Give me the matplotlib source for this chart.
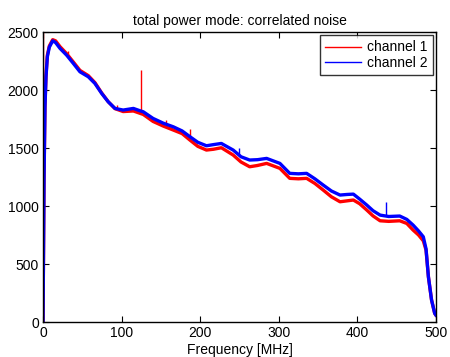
import matplotlib
matplotlib.use("Agg")
import matplotlib.pyplot as plt

plt.rcParams["font.family"] = ["Liberation Sans", "DejaVu Sans"]

# spectrum, MHz
freq = [0, 1.3, 2.5, 3.8, 5.5, 8, 12.3, 16, 21.6, 30, 38.6, 47, 57.6, 66,
        74.7, 83, 91.6, 102, 115, 123.4, 127.6, 140, 153, 166, 177, 187, 197,
        208, 217, 227, 242, 252, 263, 273, 284.6, 301.5, 314, 325, 335.5, 346,
        356.6, 367, 378, 387, 395, 403, 412, 420, 429, 440, 454, 463, 471, 478,
        484, 487.5, 490.5, 494.5, 498.5, 500]
ch1 = [0, 1250, 1870, 2125, 2300, 2380, 2435, 2425, 2375, 2315, 2242, 2170,
       2125, 2065, 1975, 1900, 1840, 1815, 1820, 1800, 1790, 1730, 1690, 1655,
       1625, 1569, 1515, 1483, 1490, 1503, 1440, 1380, 1339, 1350, 1368, 1325,
       1239, 1235, 1239, 1195, 1138, 1080, 1037, 1045, 1052, 1020, 966, 915,
       873, 868, 873, 850, 793, 750, 700, 620, 390, 190, 75, 60]
ch2 = [0, 1230, 1856, 2115, 2287, 2370, 2425, 2410, 2360, 2302, 2230, 2158,
       2115, 2058, 1971, 1899, 1842, 1828, 1842, 1822, 1813, 1756, 1715, 1683,
       1648, 1598, 1550, 1520, 1530, 1540, 1483, 1425, 1397, 1400, 1411, 1368,
       1282, 1278, 1282, 1235, 1181, 1130, 1095, 1100, 1103, 1060, 1009, 960,
       922, 910, 914, 885, 836, 785, 735, 630, 390, 190, 75, 60]

# narrow spikes: frequency, base, top
ch1_spike_f = [0.3, 31.4, 93.7, 125, 156.5, 187]
ch1_spike_lo = [0, 2310, 1835, 1795, 1680, 1575]
ch1_spike_hi = [2700, 2335, 1872, 2175, 1745, 1664]
ch2_spike_f = [250, 437]
ch2_spike_lo = [1440, 910]
ch2_spike_hi = [1497, 1037]

fig = plt.figure(figsize=(4.5, 3.57), dpi=100)
ax = fig.add_axes([0.0956, 0.098, 0.873, 0.812])

ax.plot(freq, ch1, color="red", lw=2.4, label="channel 1")
ax.vlines(ch1_spike_f, ch1_spike_lo, ch1_spike_hi, color="red", lw=1)
ax.plot(freq, ch2, color="blue", lw=2.4, label="channel 2")
ax.vlines(ch2_spike_f, ch2_spike_lo, ch2_spike_hi, color="blue", lw=1)

ax.set_xlim(0, 500)
ax.set_ylim(0, 2500)
ax.set_xticks([0, 100, 200, 300, 400, 500])
ax.set_yticks([0, 500, 1000, 1500, 2000, 2500])
ax.tick_params(direction="in", top=True, right=True, labelsize=10, length=4,
               pad=3)
for s in ax.spines.values():
    s.set_linewidth(1)
ax.set_xlabel("Frequency [MHz]", fontsize=10, labelpad=2)
ax.set_title("total power mode: correlated noise", fontsize=10, pad=5)

leg = ax.legend(loc="upper right", fontsize=10, frameon=True, fancybox=False,
                handlelength=2.6, borderpad=0.4, labelspacing=0.1,
                borderaxespad=0.2, handletextpad=0.4)
leg.get_frame().set_edgecolor("black")
leg.get_frame().set_linewidth(1)
for line in leg.get_lines():
    line.set_linewidth(1)

fig.savefig("out.png", dpi=100)
